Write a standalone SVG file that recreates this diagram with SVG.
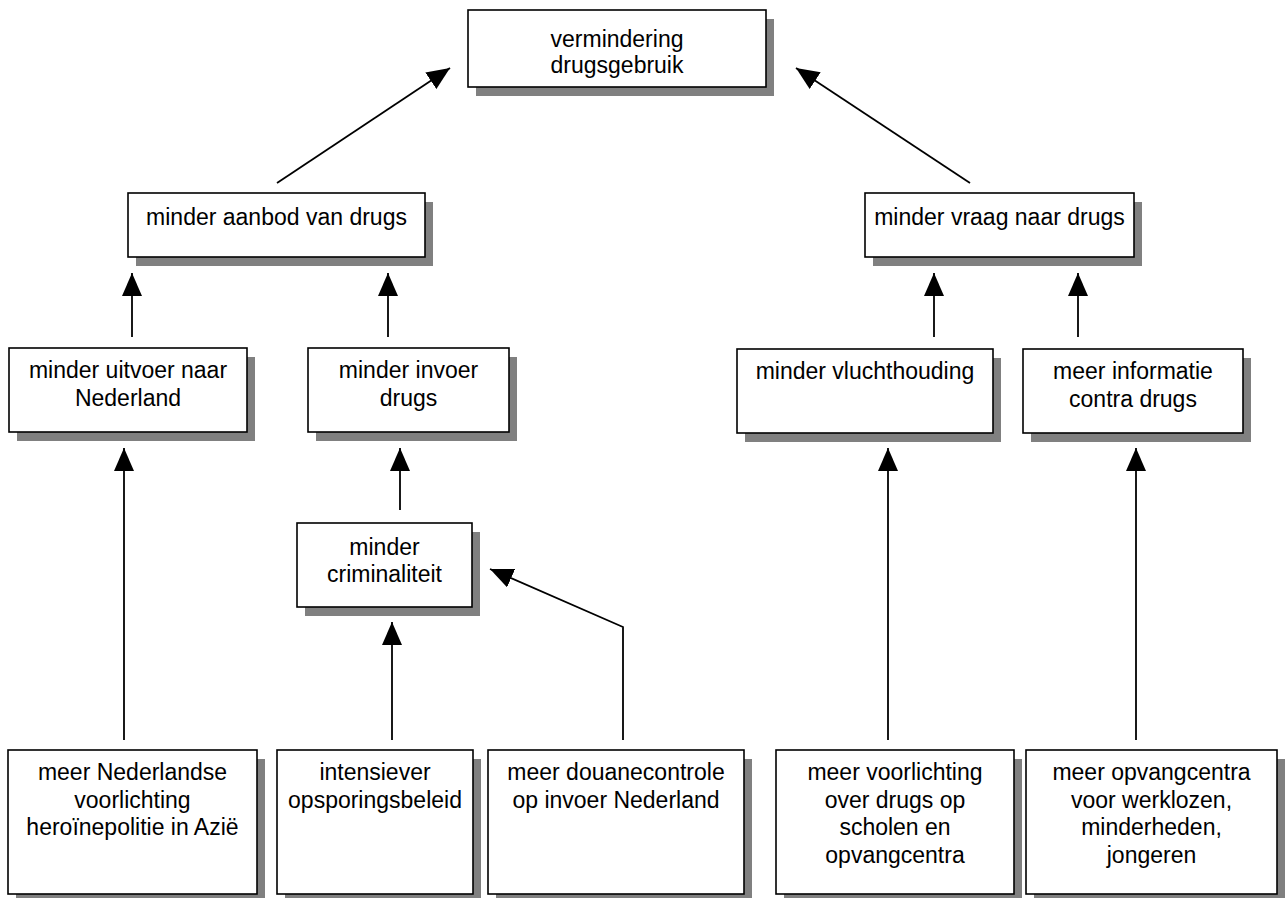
<svg xmlns="http://www.w3.org/2000/svg" width="1285" height="898" viewBox="0 0 1285 898">
<style>
.box{fill:#fff;stroke:#000;stroke-width:1.6}
.sh{fill:#808080}
.t{font-family:"Liberation Sans",Arial,sans-serif;font-size:23px;fill:#000;text-anchor:middle}
.c{fill:none;stroke:#000;stroke-width:1.8}
</style>
<defs>
<marker id="ah" viewBox="0 0 23 20" refX="23" refY="10" markerWidth="23" markerHeight="20" orient="auto" markerUnits="userSpaceOnUse">
<path d="M0,0 L23,10 L0,20 Z" fill="#000"/>
</marker>
</defs>
<rect width="1285" height="898" fill="#fff"/>
<g id="connectors">
<line class="c" x1="277" y1="183" x2="450" y2="68" marker-end="url(#ah)"/>
<line class="c" x1="970" y1="183" x2="796" y2="68" marker-end="url(#ah)"/>
<line class="c" x1="132" y1="337" x2="132" y2="273" marker-end="url(#ah)"/>
<line class="c" x1="388" y1="337" x2="388" y2="273" marker-end="url(#ah)"/>
<line class="c" x1="934" y1="337" x2="934" y2="273" marker-end="url(#ah)"/>
<line class="c" x1="1078" y1="337" x2="1078" y2="273" marker-end="url(#ah)"/>
<line class="c" x1="124" y1="740" x2="124" y2="448" marker-end="url(#ah)"/>
<line class="c" x1="400" y1="510" x2="400" y2="448" marker-end="url(#ah)"/>
<line class="c" x1="392" y1="740" x2="392" y2="622" marker-end="url(#ah)"/>
<polyline class="c" points="623,740 623,627 490,569" marker-end="url(#ah)"/>
<line class="c" x1="888" y1="740" x2="888" y2="448" marker-end="url(#ah)"/>
<line class="c" x1="1136" y1="740" x2="1136" y2="448" marker-end="url(#ah)"/>
</g>
<g id="n-top">
<rect class="sh" x="476" y="19" width="298" height="77"/>
<rect class="box" x="468" y="10" width="298" height="77"/>
<text class="t" x="617" y="47">vermindering</text>
<text class="t" x="617" y="73">drugsgebruik</text>
</g>
<g id="n-aanbod">
<rect class="sh" x="136" y="202" width="297" height="64"/>
<rect class="box" x="128" y="193" width="297" height="64"/>
<text class="t" x="276.5" y="225">minder aanbod van drugs</text>
</g>
<g id="n-vraag">
<rect class="sh" x="873" y="202" width="269" height="64"/>
<rect class="box" x="865" y="193" width="269" height="64"/>
<text class="t" x="999.5" y="225">minder vraag naar drugs</text>
</g>
<g id="n-uitvoer">
<rect class="sh" x="17" y="357" width="238" height="84"/>
<rect class="box" x="9" y="348" width="238" height="84"/>
<text class="t" x="128" y="378">minder uitvoer naar</text>
<text class="t" x="128" y="406">Nederland</text>
</g>
<g id="n-invoer">
<rect class="sh" x="316" y="357" width="201" height="84"/>
<rect class="box" x="308" y="348" width="201" height="84"/>
<text class="t" x="408.5" y="378">minder invoer</text>
<text class="t" x="408.5" y="406">drugs</text>
</g>
<g id="n-vlucht">
<rect class="sh" x="745" y="358" width="256" height="84"/>
<rect class="box" x="737" y="349" width="256" height="84"/>
<text class="t" x="865" y="379">minder vluchthouding</text>
</g>
<g id="n-informatie">
<rect class="sh" x="1031" y="358" width="220" height="84"/>
<rect class="box" x="1023" y="349" width="220" height="84"/>
<text class="t" x="1133" y="379">meer informatie</text>
<text class="t" x="1133" y="407">contra drugs</text>
</g>
<g id="n-crim">
<rect class="sh" x="305" y="532" width="175" height="84"/>
<rect class="box" x="297" y="523" width="175" height="84"/>
<text class="t" x="384.5" y="555">minder</text>
<text class="t" x="384.5" y="582">criminaliteit</text>
</g>
<g id="n-nl">
<rect class="sh" x="16" y="759" width="249" height="144"/>
<rect class="box" x="8" y="750" width="249" height="144"/>
<text class="t" x="132.5" y="780">meer Nederlandse</text>
<text class="t" x="132.5" y="807.5">voorlichting</text>
<text class="t" x="132.5" y="835">heroïnepolitie in Azië</text>
</g>
<g id="n-intens">
<rect class="sh" x="285" y="759" width="196" height="144"/>
<rect class="box" x="277" y="750" width="196" height="144"/>
<text class="t" x="375" y="780">intensiever</text>
<text class="t" x="375" y="807.5">opsporingsbeleid</text>
</g>
<g id="n-douane">
<rect class="sh" x="496" y="759" width="256" height="144"/>
<rect class="box" x="488" y="750" width="256" height="144"/>
<text class="t" x="616" y="780">meer douanecontrole</text>
<text class="t" x="616" y="807.5">op invoer Nederland</text>
</g>
<g id="n-voorl">
<rect class="sh" x="784" y="759" width="238" height="144"/>
<rect class="box" x="776" y="750" width="238" height="144"/>
<text class="t" x="895" y="780">meer voorlichting</text>
<text class="t" x="895" y="807.5">over drugs op</text>
<text class="t" x="895" y="835">scholen en</text>
<text class="t" x="895" y="862.5">opvangcentra</text>
</g>
<g id="n-opvang">
<rect class="sh" x="1034" y="759" width="251" height="144"/>
<rect class="box" x="1026" y="750" width="251" height="144"/>
<text class="t" x="1151.5" y="780">meer opvangcentra</text>
<text class="t" x="1151.5" y="807.5">voor werklozen,</text>
<text class="t" x="1151.5" y="835">minderheden,</text>
<text class="t" x="1151.5" y="862.5">jongeren</text>
</g>
</svg>
